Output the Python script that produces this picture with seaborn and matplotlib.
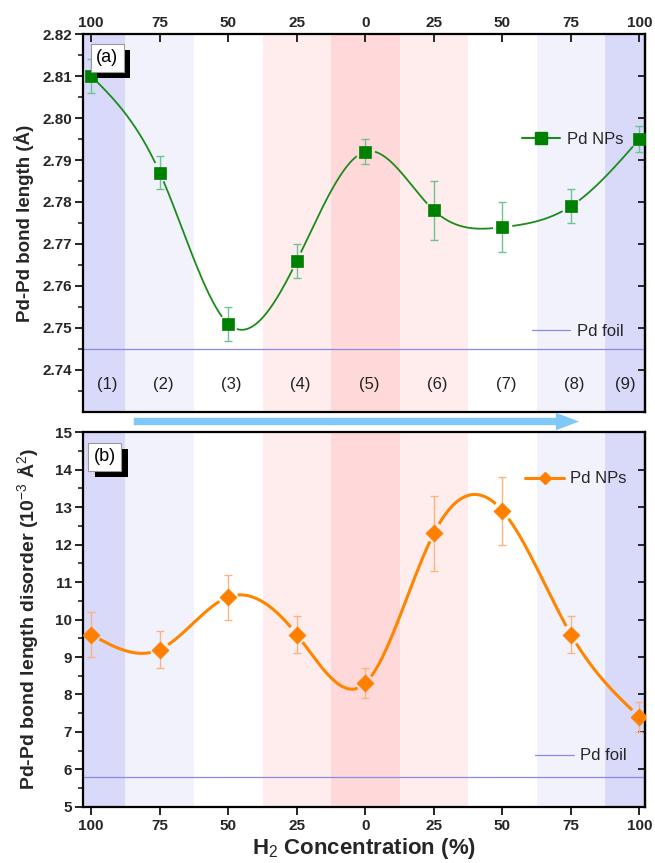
import numpy as np
import pandas as pd
import matplotlib
matplotlib.use("Agg")
import matplotlib.pyplot as plt
import seaborn as sns
from matplotlib.lines import Line2D
from matplotlib.patches import FancyArrowPatch
import matplotlib.patheffects as pe

# ---------------- data ----------------
tick_labels = ["100", "75", "50", "25", "0", "25", "50", "75", "100"]
stage_labels = ["(1)", "(2)", "(3)", "(4)", "(5)", "(6)", "(7)", "(8)", "(9)"]
bond_length = [2.810, 2.787, 2.751, 2.766, 2.792, 2.778, 2.774, 2.779, 2.795]
bond_length_err = [0.004, 0.004, 0.004, 0.004, 0.003, 0.007, 0.006, 0.004, 0.003]
disorder = [9.6, 9.2, 10.6, 9.6, 8.3, 12.3, 12.9, 9.6, 7.4]
disorder_err = [0.6, 0.5, 0.6, 0.5, 0.4, 1.0, 0.9, 0.5, 0.4]
foil_bond_length = 2.745
foil_disorder = 5.8

band_colors = ["#d9d9f9", "#f2f2fd", "#ffffff", "#ffeded", "#ffd9d9",
               "#ffeded", "#ffffff", "#f2f2fd", "#d9d9f9"]

sns.set_theme(style="white")
plt.rcParams["font.family"] = ["Liberation Sans", "DejaVu Sans"]
plt.rcParams["mathtext.fontset"] = "custom"
plt.rcParams["mathtext.rm"] = "Liberation Sans"
plt.rcParams["mathtext.bf"] = "Liberation Sans:bold"

x = np.arange(len(tick_labels))
XLIM = (-0.12, 8.08)


def natural_spline(xp, yp, n=600):
    xp = np.asarray(xp, float)
    yp = np.asarray(yp, float)
    m = len(xp)
    h = np.diff(xp)
    A = np.zeros((m, m))
    b = np.zeros(m)
    A[0, 0] = 1
    A[-1, -1] = 1
    for i in range(1, m - 1):
        A[i, i - 1] = h[i - 1]
        A[i, i] = 2 * (h[i - 1] + h[i])
        A[i, i + 1] = h[i]
        b[i] = 3 * ((yp[i + 1] - yp[i]) / h[i] - (yp[i] - yp[i - 1]) / h[i - 1])
    c = np.linalg.solve(A, b)
    xs = np.linspace(xp[0], xp[-1], n)
    idx = np.clip(np.searchsorted(xp, xs) - 1, 0, m - 2)
    dx = xs - xp[idx]
    bc = (yp[1:] - yp[:-1]) / h - h * (2 * c[:-1] + c[1:]) / 3
    d = (c[1:] - c[:-1]) / (3 * h)
    ys = yp[idx] + bc[idx] * dx + c[idx] * dx ** 2 + d[idx] * dx ** 3
    return xs, ys


fig = plt.figure(figsize=(6.55, 8.63), dpi=100)
ax1 = fig.add_axes([0.1267, 0.5226, 0.858, 0.438])
ax2 = fig.add_axes([0.1267, 0.0649, 0.858, 0.4345])


def draw_bands(ax):
    edges = [XLIM[0]] + list(x[:-1] + 0.5) + [XLIM[1]]
    for i, col in enumerate(band_colors):
        ax.axvspan(edges[i], edges[i + 1], color=col, lw=0, zorder=0)
    return edges


def draw_series(ax, y, yerr, ylim, line_col, mk_col, err_col, marker, msize, lw, gap_px):
    ax.set_xlim(*XLIM)
    ax.set_ylim(*ylim)
    xs, ys = natural_spline(x, y)
    fig.canvas.draw()
    pts = ax.transData.transform(np.column_stack([xs, ys]))
    dpts = ax.transData.transform(np.column_stack([x, y]))
    mask = np.zeros(len(xs), bool)
    for p in dpts:
        mask |= np.hypot(pts[:, 0] - p[0], pts[:, 1] - p[1]) < gap_px
    ys_plot = ys.copy()
    ys_plot[mask] = np.nan
    ax.plot(xs, ys_plot, color=line_col, lw=lw, zorder=3, solid_capstyle="butt")
    ax.errorbar(x, y, yerr=yerr, fmt="none", ecolor=err_col, elinewidth=1.0,
                capsize=3.2, capthick=1.0, zorder=2)
    df = pd.DataFrame({"x": x, "y": y})
    sns.scatterplot(data=df, x="x", y="y", ax=ax, marker=marker, s=msize,
                    color=mk_col, edgecolor=mk_col, linewidth=0.5, zorder=4, legend=False)


def style_axis(ax, major, minor, yfmt, top):
    for sp in ax.spines.values():
        sp.set_linewidth(1.6)
        sp.set_color("black")
    ax.set_xticks(x)
    ax.set_xticklabels(tick_labels)
    ax.set_yticks(major)
    ax.set_yticks(minor, minor=True)
    ax.set_yticklabels([yfmt.format(v) for v in major])
    ax.tick_params(axis="y", which="major", direction="out", length=6, width=1.4,
                   left=True, right=False, labelsize=11, pad=2)
    ax.tick_params(axis="y", which="minor", direction="out", length=3.5, width=1.2,
                   left=True, right=False)
    if top:
        ax.tick_params(axis="x", which="major", direction="in", length=6, width=1.4,
                       top=True, bottom=False, labeltop=True, labelbottom=False,
                       labelsize=11, pad=3)
    else:
        ax.tick_params(axis="x", which="major", direction="out", length=6, width=1.4,
                       top=False, bottom=True, labelsize=11, pad=3)
    ax.tick_params(axis="x", which="minor", top=False, bottom=False)
    for lab in ax.get_xticklabels() + ax.get_yticklabels():
        lab.set_fontweight("bold")
    sec = ax.secondary_yaxis("right")
    sec.set_yticks(major)
    sec.tick_params(direction="in", length=5, width=1.4, labelright=False)
    sec.spines["right"].set_linewidth(1.6)
    ax.grid(False)


def panel_label(ax, text, xa, ya):
    t = ax.text(xa, ya, text, transform=ax.transAxes, color="black", fontsize=13,
                ha="center", va="center", zorder=10,
                bbox=dict(boxstyle="square,pad=0.3", fc="white", ec="#999999", lw=0.8))
    t.get_bbox_patch().set_path_effects(
        [pe.SimplePatchShadow(offset=(4.5, -4.5), shadow_rgbFace="black", alpha=1.0),
         pe.Normal()])


# ----- panel (a) -----
edges = draw_bands(ax1)
ax1.axhline(foil_bond_length, color="#8a8ae6", lw=0.9, zorder=1)
draw_series(ax1, bond_length, bond_length_err, (2.73, 2.82), "#1b8c1b", "#008000",
            "#6cc395", "s", 70, 1.3, 9)
style_axis(ax1, np.round(np.arange(2.74, 2.8201, 0.01), 3),
           np.round(np.arange(2.735, 2.82, 0.01), 3), "{:.2f}", top=True)
ax1.set_xlabel("")
ax1.set_ylabel("Pd-Pd bond length (Å)", fontsize=13.5, fontweight="bold", labelpad=6)
centers = [(edges[i] + edges[i + 1]) / 2 for i in range(len(stage_labels))]
for cx, lab in zip(centers, stage_labels):
    ax1.text(cx + (0.05 if 0 < cx < 7.5 else 0), 2.7365, lab, ha="center", va="center",
             fontsize=12, color="#222222", zorder=5)
panel_label(ax1, "(a)", 0.043, 0.937)

h_np = Line2D([], [], color="#1b8c1b", lw=1.5, marker="s", markersize=8,
              markerfacecolor="#008000", markeredgecolor="#008000")
h_foil = Line2D([], [], color="#8a8ae6", lw=0.9)
leg1 = ax1.legend([h_np], ["Pd NPs"], loc="center right", bbox_to_anchor=(0.962, 0.722),
                  frameon=False, fontsize=12, handlelength=2.3, handletextpad=0.4,
                  borderpad=0, borderaxespad=0)
ax1.add_artist(leg1)
ax1.legend([h_foil], ["Pd foil"], loc="center right", bbox_to_anchor=(0.962, 0.214),
           frameon=False, fontsize=12, handlelength=2.3, handletextpad=0.4,
           borderpad=0, borderaxespad=0)

# ----- panel (b) -----
draw_bands(ax2)
ax2.axhline(foil_disorder, color="#8a8ae6", lw=0.9, zorder=1)
draw_series(ax2, disorder, disorder_err, (5, 15), "#ff8500", "#ff8000",
            "#f8b581", "D", 75, 2.2, 9)
style_axis(ax2, np.arange(5, 16, 1), np.arange(5.5, 15, 1.0), "{:d}", top=False)
ax2.set_xlabel("H$_2$ Concentration (%)", fontsize=16, fontweight="bold", labelpad=2)
ax2.set_ylabel("Pd-Pd bond length disorder (10$^{-3}$ Å$^{2}$)", fontsize=14,
               fontweight="bold", labelpad=9)
panel_label(ax2, "(b)", 0.039, 0.934)

h_np2 = Line2D([], [], color="#ff8500", lw=2.2, marker="D", markersize=6,
               markerfacecolor="#ff8000", markeredgecolor="#ff8000")
leg2 = ax2.legend([h_np2], ["Pd NPs"], loc="center right", bbox_to_anchor=(0.968, 0.875),
                  frameon=False, fontsize=12, handlelength=2.3, handletextpad=0.4,
                  borderpad=0, borderaxespad=0)
ax2.add_artist(leg2)
ax2.legend([h_foil], ["Pd foil"], loc="center right", bbox_to_anchor=(0.968, 0.136),
           frameon=False, fontsize=12, handlelength=2.3, handletextpad=0.4,
           borderpad=0, borderaxespad=0)

# ----- arrow between panels -----
yA = 1 - 421.5 / 863
arrow = FancyArrowPatch((131 / 655, yA), (582 / 655, yA), transform=fig.transFigure,
                        arrowstyle="simple,head_length=1.2,head_width=0.9,tail_width=0.38",
                        mutation_scale=14, color="#80c8f8", lw=0)
fig.add_artist(arrow)

fig.savefig("out.png", dpi=100)
